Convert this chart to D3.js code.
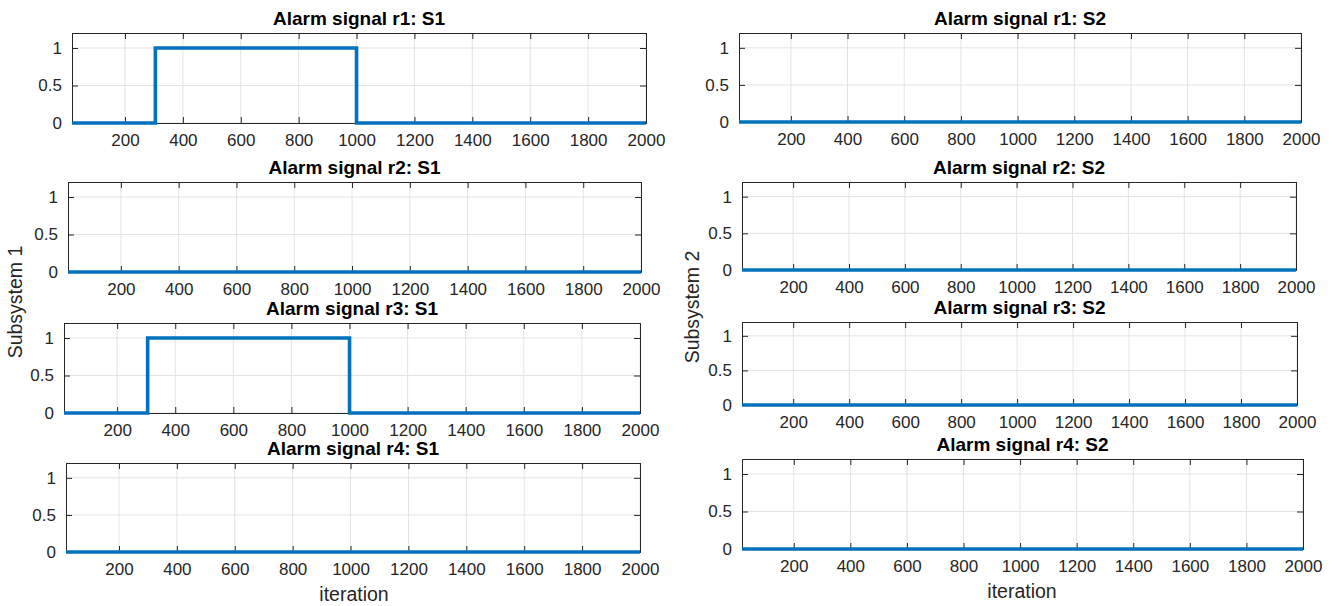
<!DOCTYPE html>
<html>
<head>
<meta charset="utf-8">
<script src="https://cdn.jsdelivr.net/npm/d3@7"></script>
<style>
  body { margin: 0; background: #fff; }
  svg { display: block; font-family: Arial, "Liberation Sans", sans-serif; }
</style>
</head>
<body>
<svg id="chart" width="1337" height="606"></svg>
<script>
// data
var xDomain = [17, 2000]
var yDomain = [0, 1.2]
var xTicks = [200, 400, 600, 800, 1000, 1200, 1400, 1600, 1800, 2000]
var yTicks = [0, 0.5, 1]

var titles = [
  'Alarm signal r1: S1', 'Alarm signal r2: S1', 'Alarm signal r3: S1', 'Alarm signal r4: S1',
  'Alarm signal r1: S2', 'Alarm signal r2: S2', 'Alarm signal r3: S2', 'Alarm signal r4: S2'
]

// step signals (iteration, alarm value)
var iterR1S1 = [17, 305, 305, 1000, 1000, 2000]
var alarmR1S1 = [0, 0, 1, 1, 0, 0]
var iterR3S1 = [17, 305, 305, 1000, 1000, 2000]
var alarmR3S1 = [0, 0, 1, 1, 0, 0]
var iterFlat = [17, 2000]
var alarmFlat = [0, 0]

var signals = [
  [iterR1S1, alarmR1S1], [iterFlat, alarmFlat], [iterR3S1, alarmR3S1], [iterFlat, alarmFlat],
  [iterFlat, alarmFlat], [iterFlat, alarmFlat], [iterFlat, alarmFlat], [iterFlat, alarmFlat]
]

// layout of each axes box: left, right, top, bottom
var boxes = [
  [72, 646, 33, 123], [68, 641, 182, 272], [64, 640, 323, 413], [66, 640, 463, 552],
  [739, 1301, 33, 122], [742, 1296, 182, 270], [742, 1297, 322, 405], [742, 1303, 459, 549]
]

var svg = d3.select('#chart')
var axisColor = '#262626'
var gridColor = '#e3e3e3'
var lineColor = '#0072BD'
var fontFam = 'Arial, "Liberation Sans", sans-serif'

var draw_panel = function(i){
  var b = boxes[i]
  var x = d3.scaleLinear().domain(xDomain).range([b[0], b[1]])
  var y = d3.scaleLinear().domain(yDomain).range([b[3], b[2]])
  var g = svg.append('g')

  // grid
  g.selectAll('.gx').data(xTicks).enter().append('line')
    .attr('x1', function(d){ return x(d) }).attr('x2', function(d){ return x(d) })
    .attr('y1', b[2]).attr('y2', b[3])
    .attr('stroke', gridColor).attr('stroke-width', 1)
  g.selectAll('.gy').data(yTicks).enter().append('line')
    .attr('x1', b[0]).attr('x2', b[1])
    .attr('y1', function(d){ return y(d) }).attr('y2', function(d){ return y(d) })
    .attr('stroke', gridColor).attr('stroke-width', 1)

  // axes, ticks inward, box on
  var xb = d3.axisBottom(x).tickValues(xTicks).tickSize(-6).tickPadding(11).tickFormat(d3.format('d'))
  var xt = d3.axisTop(x).tickValues(xTicks).tickSize(-6).tickFormat('')
  var yl = d3.axisLeft(y).tickValues(yTicks).tickSize(-6).tickPadding(10).tickFormat(function(d){ return d })
  var yr = d3.axisRight(y).tickValues(yTicks).tickSize(-6).tickFormat('')

  var ax = [
    g.append('g').attr('transform', 'translate(0,' + b[3] + ')').call(xb),
    g.append('g').attr('transform', 'translate(0,' + b[2] + ')').call(xt),
    g.append('g').attr('transform', 'translate(' + b[0] + ',0)').call(yl),
    g.append('g').attr('transform', 'translate(' + b[1] + ',0)').call(yr)
  ]
  ax.forEach(function(a){
    a.select('.domain').attr('stroke', axisColor).attr('stroke-width', 1)
    a.selectAll('.tick line').attr('stroke', axisColor)
    a.selectAll('.tick text').attr('fill', axisColor).attr('font-size', 17)
      .attr('font-family', fontFam)
  })

  // signal
  var xs = signals[i][0], ys = signals[i][1]
  var line = d3.line().x(function(d){ return x(d) }).y(function(d, j){ return y(ys[j]) })
  g.append('path').datum(xs).attr('d', line)
    .attr('fill', 'none').attr('stroke', lineColor).attr('stroke-width', 3.6)
    .attr('stroke-linejoin', 'miter')

  // title
  g.append('text').attr('x', (b[0] + b[1]) / 2).attr('y', b[2] - 8)
    .attr('text-anchor', 'middle').attr('font-size', 19).attr('font-weight', 'bold')
    .attr('fill', '#000').text(titles[i])
}

for (var i = 0; i < boxes.length; i++) draw_panel(i)

// y labels
svg.append('text').attr('transform', 'translate(22,302) rotate(-90)')
  .attr('text-anchor', 'middle').attr('font-size', 19.5).attr('fill', axisColor).text('Subsystem 1')
svg.append('text').attr('transform', 'translate(699,307) rotate(-90)')
  .attr('text-anchor', 'middle').attr('font-size', 19.5).attr('fill', axisColor).text('Subsystem 2')

// x labels
svg.append('text').attr('x', 354).attr('y', 601)
  .attr('text-anchor', 'middle').attr('font-size', 19.5).attr('fill', axisColor).text('iteration')
svg.append('text').attr('x', 1022).attr('y', 598)
  .attr('text-anchor', 'middle').attr('font-size', 19.5).attr('fill', axisColor).text('iteration')
</script>
</body>
</html>
